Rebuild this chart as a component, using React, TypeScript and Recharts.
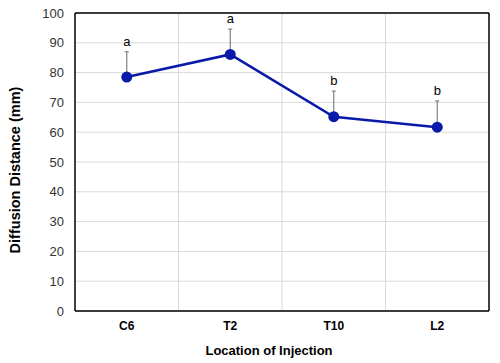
import {
    LineChart,
    Line,
    XAxis,
    YAxis,
    CartesianGrid,
    ErrorBar,
    LabelList,
    Label,
} from "recharts";

// Diffusion distance by injection site (mean, upper SD, letter group)
const categories = ["C6", "T2", "T10", "L2"];
const means = [78.5, 86.1, 65.2, 61.7];
const errors = [8.5, 8.5, 8.6, 8.8];
const letters = ["a", "a", "b", "b"];
const yTicks = [0, 10, 20, 30, 40, 50, 60, 70, 80, 90, 100];

const data = categories.map((name, i) => ({
    name,
    mean: means[i],
    err: [0, errors[i]],
    top: means[i] + errors[i],
    letter: letters[i],
}));

const FONT = "'Liberation Sans', Arial, sans-serif";

// vertical grid lines sit on the category boundaries, not the centers
const bandBoundaries = ({ offset }: any) =>
    [1, 2, 3].map((i) => offset.left + (offset.width * i) / categories.length);

const YTitle = () => (
    <text
        x={15}
        y={170}
        transform="rotate(-90 15 170)"
        textAnchor="middle"
        dominantBaseline="central"
        fontFamily={FONT}
        fontWeight="bold"
        fontSize={14.5}
        fill="#000"
    >
        Diffusion Distance (mm)
    </text>
);

const border = { stroke: "#000", strokeWidth: 1.5 };

export default function App() {
    return (
        <div style={{ position: "absolute", left: 0, top: 0, background: "#fff" }}>
            <LineChart
                width={500}
                height={363}
                data={data}
                margin={{ top: 12, right: 10, bottom: 22, left: 15 }}
            >
                <CartesianGrid
                    stroke="#d9d9d9"
                    strokeWidth={1}
                    verticalCoordinatesGenerator={bandBoundaries}
                />
                <XAxis
                    dataKey="name"
                    type="category"
                    scale="band"
                    axisLine={border}
                    tickLine={false}
                    tickSize={0}
                    tickMargin={10}
                    height={30}
                    tick={{ fill: "#000", fontSize: 12, fontWeight: "bold", fontFamily: FONT }}
                >
                    <Label
                        value="Location of Injection"
                        position="bottom"
                        offset={5}
                        dx={-13}
                        style={{ fill: "#000", fontSize: 13, fontWeight: "bold", fontFamily: FONT }}
                    />
                </XAxis>
                <XAxis
                    xAxisId="top"
                    orientation="top"
                    dataKey="name"
                    type="category"
                    scale="band"
                    height={1}
                    tick={false}
                    tickLine={false}
                    axisLine={border}
                />
                <YAxis
                    domain={[0, 100]}
                    ticks={yTicks}
                    width={60}
                    axisLine={border}
                    tickLine={false}
                    tickSize={0}
                    tickMargin={11}
                    tick={{ fill: "#333", fontSize: 13, fontFamily: FONT }}
                    label={{ content: () => <YTitle /> }}
                />
                <YAxis
                    yAxisId="right"
                    orientation="right"
                    domain={[0, 100]}
                    ticks={yTicks}
                    width={1}
                    tick={false}
                    tickLine={false}
                    axisLine={border}
                />
                {/* error bars (upper only) drawn first so the dots cover their base */}
                <Line
                    dataKey="mean"
                    stroke="none"
                    dot={false}
                    activeDot={false}
                    isAnimationActive={false}
                >
                    <ErrorBar dataKey="err" width={2} stroke="#808080" strokeWidth={1.2} />
                </Line>
                {/* significance letters above the error bars (on the top/right axes, same scales) */}
                <Line
                    dataKey="top"
                    xAxisId="top"
                    yAxisId="right"
                    stroke="none"
                    dot={false}
                    activeDot={false}
                    isAnimationActive={false}
                >
                    <LabelList
                        dataKey="letter"
                        position="top"
                        offset={6}
                        style={{ fill: "#000", fontSize: 13, fontFamily: FONT }}
                    />
                </Line>
                <Line
                    dataKey="mean"
                    stroke="#0a1aa8"
                    strokeWidth={2.5}
                    dot={{ r: 5.5, fill: "#0a1aa8", stroke: "#0a1aa8", strokeWidth: 0 }}
                    activeDot={false}
                    isAnimationActive={false}
                />
            </LineChart>
        </div>
    );
}
